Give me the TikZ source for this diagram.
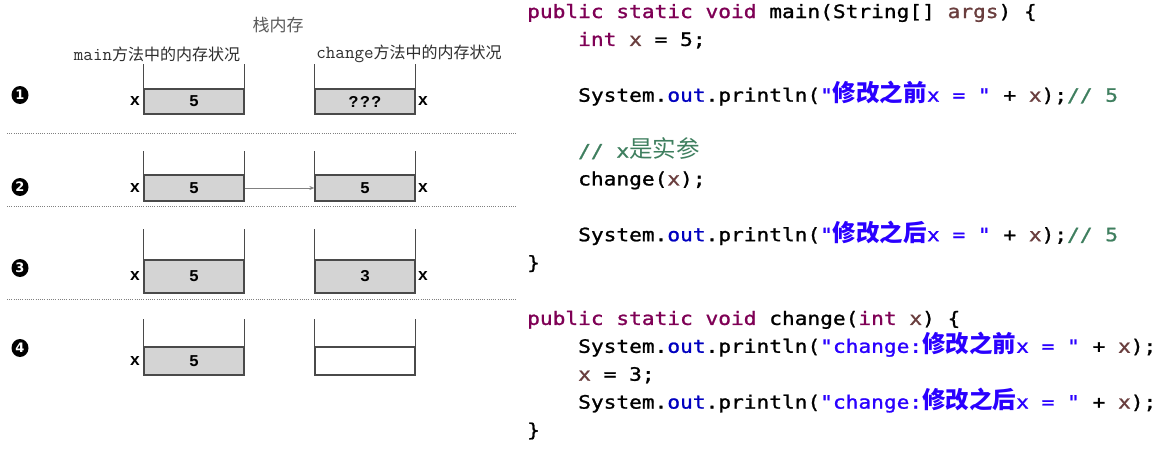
\documentclass[tikz,border=0pt]{standalone}
\usepackage{fontspec}
\usetikzlibrary{arrows.meta,shapes.geometric}
\newfontfamily\codefont[FakeStretch=1.15,FakeBold=1.2]{DejaVu Sans Mono}
\newfontfamily\cjkfont{Noto Sans CJK SC}
\newfontfamily\courfont{Liberation Mono}
\newfontfamily\numfont{DejaVu Sans}
\definecolor{kwc}{HTML}{7F0055}
\definecolor{strc}{HTML}{2A00FF}
\definecolor{cmtc}{HTML}{3F7F5F}
\definecolor{fldc}{HTML}{0000C0}
\definecolor{varc}{HTML}{6A3E3E}
\definecolor{wallc}{HTML}{4A4A4A}
\definecolor{cellc}{HTML}{D4D4D4}
\definecolor{labc}{HTML}{2E2E2E}
\definecolor{titlec}{HTML}{5A5A5A}
\newcommand\kwd[1]{\textcolor{kwc}{#1}}
\newcommand\vrb[1]{\textcolor{varc}{#1}}
\newcommand\fld[1]{\textcolor{fldc}{#1}}
\newcommand\strg[1]{\textcolor{strc}{#1}}
\newcommand\cmnt[1]{\textcolor{cmtc}{#1}}
\newcommand\cjr[1]{{\cjkfont\fontsize{23.5}{23.5}\selectfont #1}}
\newcommand\cjbold[1]{{\cjkfont\bfseries\fontsize{23.5}{23.5}\selectfont #1}}
\newcommand\hdmono[1]{{\ttfamily\fontsize{18.5}{18.5}\selectfont #1}}
\tikzset{
  code/.style={anchor=base west, inner sep=0pt, font=\codefont\fontsize{18.4}{18.4}\selectfont},
  cell/.style={draw=wallc, line width=1.3pt, fill=cellc, minimum width=100pt, inner sep=0pt,
    text=black, font=\courfont\bfseries\fontsize{16.5}{16.5}\selectfont},
  wall/.style={draw=wallc, line width=1.3pt},
  xlab/.style={inner sep=0pt, text=black, font=\courfont\bfseries\fontsize{17}{17}\selectfont},
  num/.style={ellipse, fill=black, inner sep=0pt, minimum width=17pt, minimum height=18pt,
    text=white, font=\numfont\bfseries\fontsize{13}{13}\selectfont},
  sepline/.style={draw=gray, line width=0.8pt, dash pattern=on 1pt off 1.2pt},
  head/.style={inner sep=0pt, text=labc, font=\cjkfont\fontsize{16}{16}\selectfont},
  arr/.style={draw=gray, line width=0.9pt, -{Stealth[length=5pt,width=4pt]}}
}
\begin{document}
\begin{tikzpicture}[x=1pt,y=-1pt]
\fill[white] (0,0) rectangle (1170,450);
\useasboundingbox (0,0) rectangle (1170,450);

% headings
\node[head, text=titlec, font=\cjkfont\fontsize{17}{17}\selectfont] (title) at (278,25) {栈内存};
\node[head] (s1) at (157,54) {\hdmono{main}方法中的内存状况};
\node[head] (s2) at (409,54) {\hdmono{change}方法中的内存状况};

% step numbers
\node[num] (n1) at (20,95) {1};
\node[num] (n2) at (20,187) {2};
\node[num] (n3) at (20,268) {3};
\node[num] (n4) at (20,348) {4};

% row 1
\node[cell, minimum height=25pt] (m1) at (194,101.5) {5};
\node[cell, minimum height=25pt] (c1) at (365,101.5) {?\hspace{1.5pt}?\hspace{1.5pt}?};
\draw[wall] ([yshift=24pt]m1.north west) -- (m1.south west) -- (m1.south east) -- ([yshift=24pt]m1.north east);
\draw[wall] ([yshift=24pt]c1.north west) -- (c1.south west) -- (c1.south east) -- ([yshift=24pt]c1.north east);
\node[xlab] (xm1) at (135,101.5) {x};
\node[xlab] (xc1) at (423,101.5) {x};

% row 2
\node[cell, minimum height=26pt] (m2) at (194,188) {5};
\node[cell, minimum height=26pt] (c2) at (365,188) {5};
\draw[wall] ([yshift=23pt]m2.north west) -- (m2.south west) -- (m2.south east) -- ([yshift=23pt]m2.north east);
\draw[wall] ([yshift=23pt]c2.north west) -- (c2.south west) -- (c2.south east) -- ([yshift=23pt]c2.north east);
\node[xlab] (xm2) at (135,188) {x};
\node[xlab] (xc2) at (423,188) {x};
\draw[arr] (m2.east) -- (c2.west);

% row 3
\node[cell, minimum height=33pt] (m3) at (194,276.5) {5};
\node[cell, minimum height=33pt] (c3) at (365,276.5) {3};
\draw[wall] ([yshift=30pt]m3.north west) -- (m3.south west) -- (m3.south east) -- ([yshift=30pt]m3.north east);
\draw[wall] ([yshift=30pt]c3.north west) -- (c3.south west) -- (c3.south east) -- ([yshift=30pt]c3.north east);
\node[xlab] (xm3) at (135,276.5) {x};
\node[xlab] (xc3) at (423,276.5) {x};

% row 4
\node[cell, minimum height=28pt] (m4) at (194,361) {5};
\node[cell, minimum height=28pt, fill=white] (c4) at (365,361) {};
\draw[wall] ([yshift=27pt]m4.north west) -- (m4.south west) -- (m4.south east) -- ([yshift=27pt]m4.north east);
\draw[wall] ([yshift=27pt]c4.north west) -- (c4.south west) -- (c4.south east) -- ([yshift=27pt]c4.north east);
\node[xlab] (xm4) at (135,361) {x};

% separators
\draw[sepline] (7,133) -- (517,133);
\draw[sepline] (7,206) -- (517,206);
\draw[sepline] (7,299) -- (517,299);

% code
\node[code] (l0) at (527,18) {\kwd{public static void} main(String[] \vrb{args}) \{};
\node[code] (l1) at (578,45.9) {\kwd{int} \vrb{x} = 5;};
\node[code] (l3) at (578,101.7) {System.\fld{out}.println(\strg{"\cjbold{修改之前}x = "} + \vrb{x});\cmnt{// 5}};
\node[code] (l5) at (578,157.5) {\cmnt{// x\cjr{是实参}}};
\node[code] (l6) at (578,185.4) {change(\vrb{x});};
\node[code] (l8) at (578,241.2) {System.\fld{out}.println(\strg{"\cjbold{修改之后}x = "} + \vrb{x});\cmnt{// 5}};
\node[code] (l9) at (527,269.1) {\}};
\node[code] (l11) at (527,324.9) {\kwd{public static void} change(\kwd{int} \vrb{x}) \{};
\node[code] (l12) at (578,352.8) {System.\fld{out}.println(\strg{"change:\cjbold{修改之前}x = "} + \vrb{x});};
\node[code] (l13) at (578,380.7) {\vrb{x} = 3;};
\node[code] (l14) at (578,408.6) {System.\fld{out}.println(\strg{"change:\cjbold{修改之后}x = "} + \vrb{x});};
\node[code] (l15) at (527,436.5) {\}};
\end{tikzpicture}
\end{document}
